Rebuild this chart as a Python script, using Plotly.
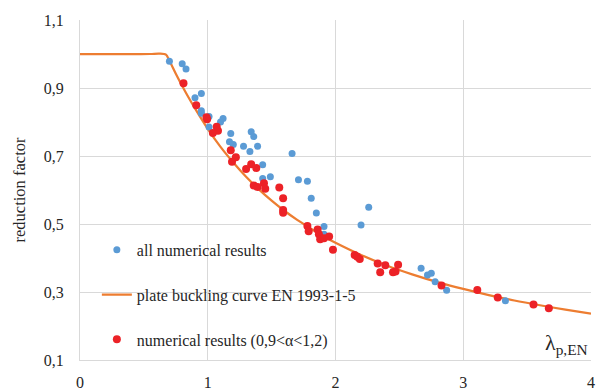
import plotly.graph_objects as go

# all numerical results (blue)
all_x = [0.70, 0.80, 0.83, 0.90, 0.95, 0.95, 0.95, 1.01, 1.01, 1.10, 1.12, 1.18, 1.17, 1.20,
         1.28, 1.34, 1.36, 1.33, 1.39, 1.43, 1.43, 1.49, 1.66, 1.71, 1.78, 1.81, 1.85, 1.91,
         1.91, 2.26, 2.20, 2.67, 2.72, 2.75, 2.78, 2.87, 3.33]
all_y = [0.979, 0.971, 0.956, 0.871, 0.884, 0.833, 0.826, 0.816, 0.785, 0.800, 0.810, 0.766,
         0.742, 0.734, 0.729, 0.771, 0.757, 0.713, 0.729, 0.674, 0.634, 0.639, 0.707, 0.630,
         0.626, 0.576, 0.532, 0.493, 0.470, 0.549, 0.497, 0.370, 0.350, 0.355, 0.330, 0.305,
         0.274]

# numerical results (0,9<alpha<1,2) (red)
sel_x = [0.81, 0.91, 0.99, 0.995, 1.07, 1.08, 1.04, 1.18, 1.22, 1.19, 1.34, 1.38, 1.30, 1.36,
         1.39, 1.44, 1.45, 1.56, 1.59, 1.59, 1.59, 1.78, 1.79, 1.86, 1.87, 1.88, 1.91, 1.95,
         1.98, 2.15, 2.17, 2.19, 2.33, 2.35, 2.39, 2.45, 2.47, 2.49, 2.83, 3.11, 3.27, 3.55,
         3.67]
sel_y = [0.914, 0.849, 0.814, 0.808, 0.786, 0.774, 0.768, 0.717, 0.696, 0.683, 0.676, 0.665,
         0.662, 0.613, 0.609, 0.620, 0.604, 0.607, 0.576, 0.541, 0.533, 0.494, 0.479, 0.484,
         0.470, 0.455, 0.458, 0.463, 0.424, 0.409, 0.404, 0.397, 0.384, 0.358, 0.379, 0.358,
         0.360, 0.380, 0.319, 0.306, 0.284, 0.263, 0.252]

# plate buckling curve EN 1993-1-5
curve_x = [0.0, 0.3, 0.55, 0.62, 0.673, 0.70, 0.75, 0.80, 0.85, 0.90, 1.0, 1.1, 1.2, 1.3, 1.4, 1.5,
           1.6, 1.7, 1.8, 1.9, 2.0, 2.2, 2.4, 2.6, 2.8, 3.0, 3.2, 3.4, 3.6, 3.8, 4.0]
curve_y = [1.0, 1.0, 1.0, 1.001, 0.998, 0.980, 0.942, 0.906, 0.872, 0.840, 0.780, 0.727, 0.681, 0.639,
           0.602, 0.569, 0.539, 0.512, 0.488, 0.465, 0.445, 0.409, 0.378, 0.352, 0.329, 0.309,
           0.291, 0.275, 0.261, 0.248, 0.236]

x_ticks = [0, 1, 2, 3, 4]
y_ticks = [0.1, 0.3, 0.5, 0.7, 0.9, 1.1]

font = "Liberation Serif"

fig = go.Figure()
fig.add_trace(go.Scatter(x=curve_x, y=curve_y, mode="lines", name="plate buckling curve EN 1993-1-5",
                         line=dict(color="#ED7D31", width=2.25, shape="spline", smoothing=0.8),
                         legendgroup="b", legendrank=2))
fig.add_trace(go.Scatter(x=all_x, y=all_y, mode="markers", name="all numerical results",
                         marker=dict(color="#5B9BD5", size=7), legendgroup="a", legendrank=1))
fig.add_trace(go.Scatter(x=sel_x, y=sel_y, mode="markers", name="numerical results (0,9<α<1,2)",
                         marker=dict(color="#EC2227", size=8), legendgroup="c", legendrank=3))

fig.update_layout(
    width=604, height=392,
    margin=dict(l=80, r=13, t=20, b=32, autoexpand=False),
    paper_bgcolor="white", plot_bgcolor="white",
    separators=", ",
    font=dict(family=font, size=16, color="#262626"),
    legend=dict(x=0.033, y=0.374, xanchor="left", yanchor="top", bgcolor="rgba(0,0,0,0)",
                tracegroupgap=21, font=dict(family=font, size=16, color="#262626")),
    xaxis=dict(range=[0, 4], tickvals=x_ticks, showgrid=True, gridcolor="#D9D9D9", gridwidth=1,
               zeroline=False, showline=True, linecolor="#D9D9D9", ticks="",
               ticklabelstandoff=8, automargin=False,
               tickfont=dict(family=font, size=16)),
    yaxis=dict(range=[0.1, 1.1], tickvals=y_ticks, tickformat=".1f", showgrid=True,
               gridcolor="#D9D9D9", gridwidth=1, zeroline=False, showline=True,
               linecolor="#D9D9D9", ticks="", tickfont=dict(family=font, size=16),
               ticklabelstandoff=12, automargin=False,
               title=dict(text="reduction factor", font=dict(family=font, size=16.5), standoff=14)),
    annotations=[dict(x=3.99, y=0.1, xref="x", yref="y", xanchor="right", yanchor="bottom",
                      yshift=0, showarrow=False,
                      text="λ<sub>p,EN</sub>", font=dict(family=font, size=22, color="#262626"))],
)

fig.write_html("out.html")
